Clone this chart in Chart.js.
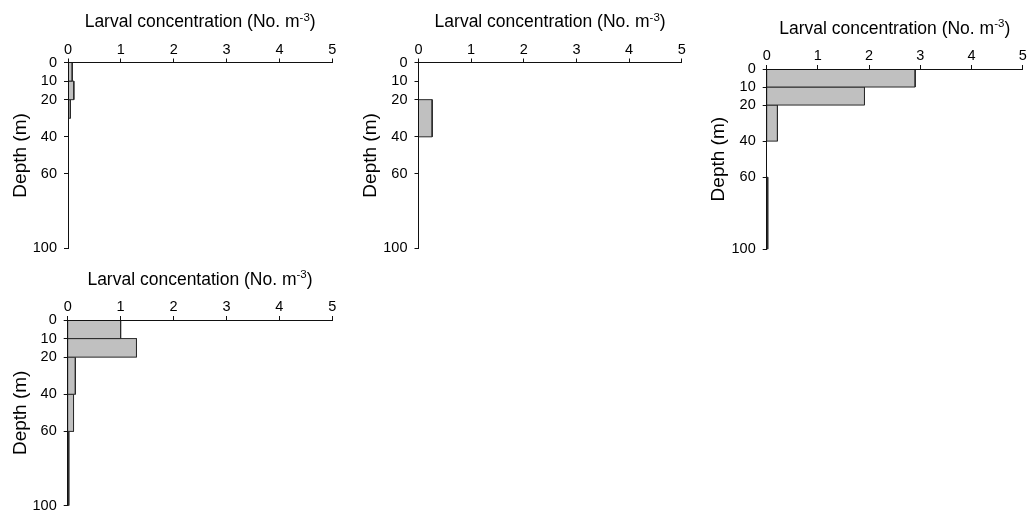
<!DOCTYPE html>
<html>
<head>
<meta charset="utf-8">
<script src="https://cdn.jsdelivr.net/npm/chart.js@4.4.1/dist/chart.umd.min.js"></script>
<style>
  html, body { margin: 0; padding: 0; background: #fff; }
  body { width: 1028px; height: 518px; position: relative; overflow: hidden; }
  canvas { position: absolute; display: block; }
</style>
</head>
<body>
<canvas id="stA"></canvas>
<canvas id="stB"></canvas>
<canvas id="stC"></canvas>
<canvas id="stD"></canvas>
<script>
// Shared axis ticks
const concTicks = [0, 1, 2, 3, 4, 5];
const depthTicks = [0, 10, 20, 40, 60, 100];

// Station A: depth bins (m) and larval concentration (No. m-3)
const aTop = [0, 10, 20, 60];
const aBottom = [10, 20, 30, 70];
const aConc = [0.08, 0.11, 0.045, 0.01];

// Station B
const bTop = [20];
const bBottom = [40];
const bConc = [0.26];

// Station C
const cTop = [0, 10, 20, 60];
const cBottom = [10, 20, 40, 100];
const cConc = [2.9, 1.91, 0.21, 0.02];

// Station D
const dTop = [0, 10, 20, 40, 60];
const dBottom = [10, 20, 40, 60, 100];
const dConc = [1.0, 1.3, 0.145, 0.11, 0.02];

// Axis titles
const titleStd = 'Larval concentration (No. m';
const titleD = 'Larval concentation (No. m';
const titleSup = '-3';
const titleTail = ')';
const depthTitle = 'Depth (m)';

const FONT = "'Liberation Sans', Arial, Helvetica, sans-serif";
const BAR_FILL = '#c0c0c0';
const BAR_EDGE = '#2a2a2a';
const AXIS = '#111111';

// Top axis title with a raised exponent, centred over the plot area
const topTitle = {
  id: 'topTitle',
  afterDraw(chart, args, opts) {
    const { ctx, chartArea } = chart;
    ctx.save();
    ctx.fillStyle = '#000';
    ctx.textBaseline = 'alphabetic';
    ctx.textAlign = 'left';
    const mainFont = opts.size + 'px ' + FONT;
    const supFont = opts.supSize + 'px ' + FONT;
    ctx.font = mainFont;
    const w1 = ctx.measureText(opts.text).width;
    const w3 = ctx.measureText(opts.tail).width;
    ctx.font = supFont;
    const w2 = ctx.measureText(opts.sup).width;
    let x = (chartArea.left + chartArea.right) / 2 - (w1 + w2 + w3) / 2;
    const y = chartArea.top - opts.gap;
    ctx.font = mainFont;
    ctx.fillText(opts.text, x, y);
    x += w1;
    ctx.font = supFont;
    ctx.fillText(opts.sup, x, y - opts.rise);
    x += w2;
    ctx.font = mainFont;
    ctx.fillText(opts.tail, x, y);
    ctx.restore();
  }
};

function makePanel(id, box, tops, bottoms, conc, title) {
  const cv = document.getElementById(id);
  cv.width = box.w;
  cv.height = box.h;
  cv.style.left = box.x + 'px';
  cv.style.top = box.y + 'px';
  cv.style.width = box.w + 'px';
  cv.style.height = box.h + 'px';

  const yW = box.left - box.x;
  const xH = box.top - box.y;
  const padR = box.x + box.w - box.right;
  const padB = box.y + box.h - box.bottom;

  // each depth bin is a closed rectangle from 0 to its concentration
  const datasets = conc.map((v, i) => ({
    data: [
      { x: 0, y: tops[i] },
      { x: v, y: tops[i] },
      { x: v, y: bottoms[i] },
      { x: 0, y: bottoms[i] },
      { x: 0, y: tops[i] }
    ],
    fill: 'shape',
    backgroundColor: BAR_FILL,
    borderColor: BAR_EDGE,
    borderWidth: 1,
    pointRadius: 0,
    pointHoverRadius: 0,
    tension: 0
  }));

  return new Chart(cv, {
    type: 'line',
    data: { datasets },
    plugins: [topTitle],
    options: {
      responsive: false,
      maintainAspectRatio: false,
      animation: false,
      events: [],
      layout: { padding: { left: 0, top: 0, right: padR, bottom: padB } },
      plugins: {
        legend: { display: false },
        tooltip: { enabled: false },
        topTitle: { text: title, sup: titleSup, tail: titleTail, size: 17.5, supSize: 11.5, rise: 6.5, gap: 35.5 }
      },
      scales: {
        x: {
          type: 'linear',
          position: 'top',
          min: 0,
          max: 5,
          afterBuildTicks(s) { s.ticks = concTicks.map(v => ({ value: v })); },
          ticks: { padding: 0, color: '#000', font: { family: FONT, size: 14.5 } },
          grid: { drawOnChartArea: false, drawTicks: true, tickLength: 4, color: AXIS, lineWidth: 1 },
          border: { display: true, color: AXIS, width: 1, z: 1 },
          afterFit(s) { s.height = xH; s.paddingLeft = 0; s.paddingRight = 0; }
        },
        y: {
          type: 'linear',
          reverse: true,
          min: 0,
          max: 100,
          afterBuildTicks(s) { s.ticks = depthTicks.map(v => ({ value: v })); },
          ticks: { padding: 7, color: '#000', font: { family: FONT, size: 14.5 } },
          grid: { drawOnChartArea: false, drawTicks: true, tickLength: 4, color: AXIS, lineWidth: 1 },
          border: { display: true, color: AXIS, width: 1, z: 1 },
          title: {
            display: true,
            text: depthTitle,
            color: '#000',
            font: { family: FONT, size: 19 },
            padding: { top: 9.6, bottom: 0 }
          },
          afterFit(s) { s.width = yW; s.paddingTop = 0; s.paddingBottom = 0; }
        }
      }
    }
  });
}

makePanel('stA', { x: 0, y: 0, w: 345, h: 262, left: 68, top: 62.5, right: 332.3, bottom: 248.3 }, aTop, aBottom, aConc, titleStd);
makePanel('stB', { x: 350, y: 0, w: 345, h: 262, left: 418.5, top: 62.5, right: 681.7, bottom: 248.3 }, bTop, bBottom, bConc, titleStd);
makePanel('stC', { x: 698, y: 0, w: 330, h: 262, left: 766.7, top: 69, right: 1022.7, bottom: 249.3 }, cTop, cBottom, cConc, titleStd);
makePanel('stD', { x: 0, y: 258, w: 345, h: 260, left: 67.7, top: 320, right: 332.3, bottom: 505.7 }, dTop, dBottom, dConc, titleD);
</script>
</body>
</html>
